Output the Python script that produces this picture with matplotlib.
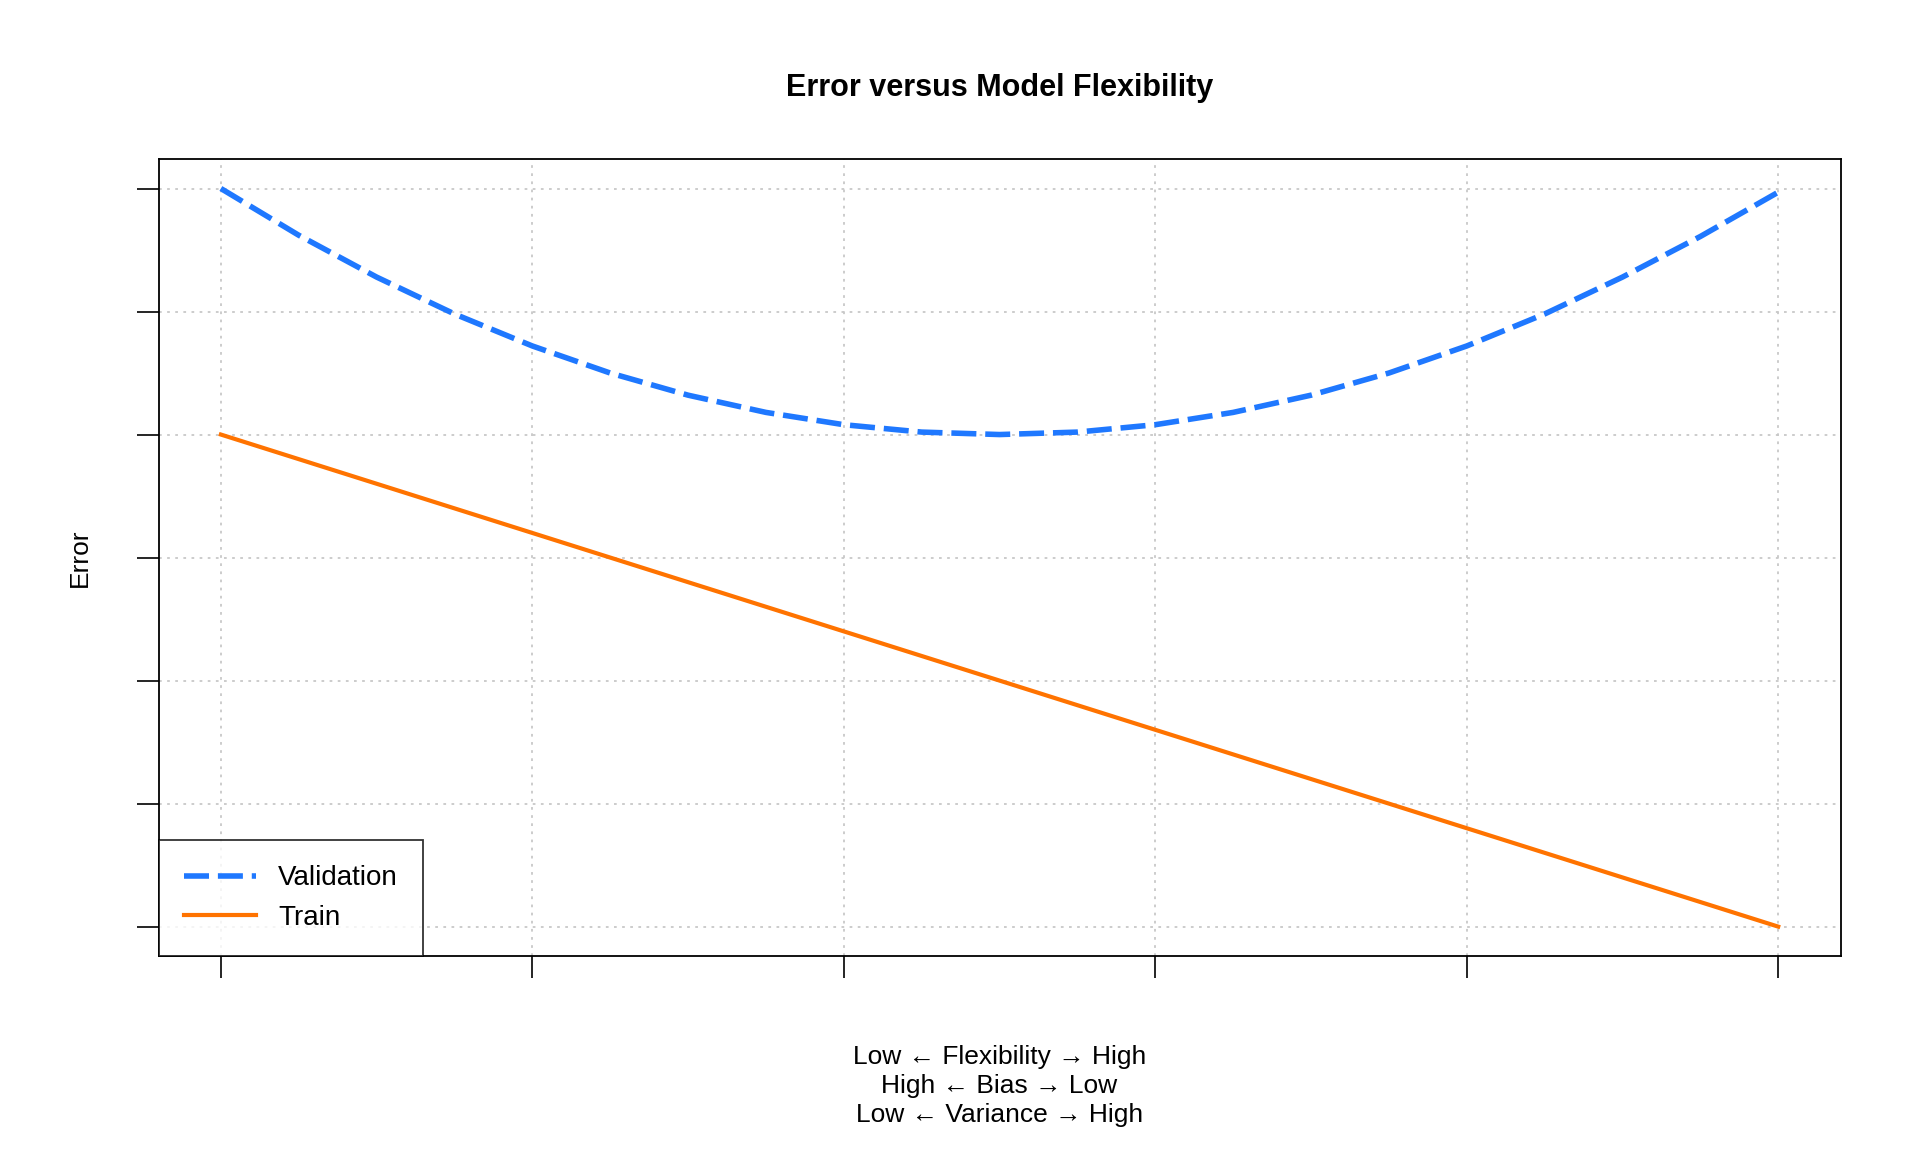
import matplotlib
matplotlib.use("Agg")
import matplotlib.pyplot as plt

plt.rcParams['font.family'] = ['Liberation Sans', 'DejaVu Sans']

flex = [1, 1.25, 1.5, 1.75, 2, 2.25, 2.5, 2.75, 3, 3.25, 3.5, 3.75, 4, 4.25, 4.5, 4.75, 5, 5.25, 5.5, 5.75, 6]
validation = [6.0, 5.62, 5.28, 4.98, 4.72, 4.50, 4.32, 4.18, 4.08, 4.02, 4.0, 4.02, 4.08, 4.18, 4.32, 4.50, 4.72, 4.98, 5.28, 5.61, 5.97]
train_x = [1, 6]
train = [4.0, 0.0]
xticks = [1, 2, 3, 4, 5, 6]
yticks = [0, 1, 2, 3, 4, 5, 6]

fig = plt.figure(figsize=(19.2, 11.52), dpi=100)
ax = fig.add_axes([0.0826, 0.17, 0.876, 0.692])
ax.plot(flex, validation, color='#1f78ff', lw=4, ls=(0, (4.5, 1.6)), label='Validation')
ax.plot(train_x, train, color='#ff7300', lw=3, label='Train')
ax.set_xlim(0.8, 6.2)
ax.set_ylim(-0.24, 6.24)
ax.set_xticks(xticks)
ax.set_yticks(yticks)
ax.set_xticklabels([])
ax.set_yticklabels([])
ax.grid(True, color='#c8c8c8', ls=(0, (1.5, 3)), lw=1.3)
ax.tick_params(length=16, width=1.2, direction='out', pad=10)
for s in ax.spines.values():
    s.set_linewidth(1.3)
ax.set_title('Error versus Model Flexibility', fontsize=22, fontweight='bold', pad=45)
ax.set_ylabel('Error', fontsize=19, labelpad=22)
ax.set_xlabel('Low ← Flexibility → High\nHigh ← Bias → Low\nLow ← Variance → High',
              fontsize=19, labelpad=38, linespacing=1.25)
leg = ax.legend(loc='lower left', fontsize=20, frameon=True, fancybox=False,
                borderaxespad=0, handlelength=2.6, borderpad=0.9)
leg.get_frame().set_edgecolor('black')
leg.get_frame().set_linewidth(1.3)
fig.savefig('out.png', dpi=100)
